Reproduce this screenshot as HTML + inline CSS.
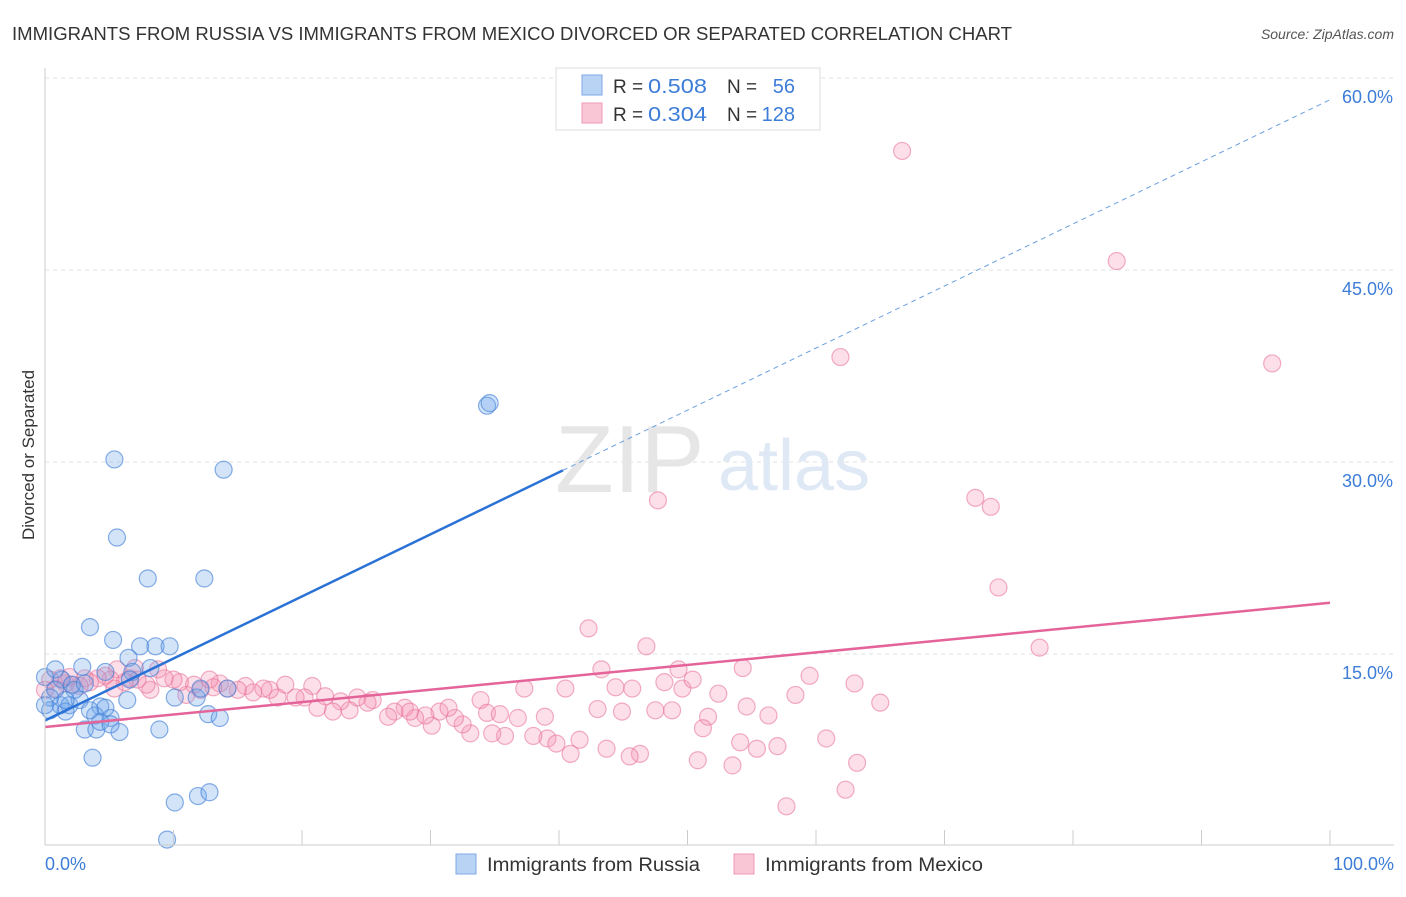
<!DOCTYPE html>
<html><head><meta charset="utf-8"><style>
body{margin:0;background:#fff;font-family:"Liberation Sans",sans-serif;}
svg text{font-family:"Liberation Sans",sans-serif;}
</style></head><body>
<svg id="c" width="1406" height="892">
<text x="12" y="40" font-size="18" fill="#333" textLength="1000" lengthAdjust="spacingAndGlyphs">IMMIGRANTS FROM RUSSIA VS IMMIGRANTS FROM MEXICO DIVORCED OR SEPARATED CORRELATION CHART</text>
<text x="1394" y="39" font-size="14" fill="#555" font-style="italic" text-anchor="end">Source: ZipAtlas.com</text>
<text x="34" y="455" font-size="17" fill="#333" text-anchor="middle" transform="rotate(-90 34 455)">Divorced or Separated</text>
<g id="grid"></g>
<text x="555" y="492" font-size="96" fill="#e6e6e6" font-family="Liberation Serif">ZIP</text>
<text x="718" y="490" font-size="72" fill="#dfe8f5">atlas</text>
<g id="pts"></g>
<g id="lines"></g>
<line x1="45" y1="845" x2="1394" y2="845" stroke="#ccc"/>
<line x1="45" y1="68" x2="45" y2="845" stroke="#ccc"/>
<g id="ticks"></g>
<text x="45" y="870" font-size="18" fill="#3d7dd8">0.0%</text>
<text x="1394" y="870" font-size="18" fill="#3d7dd8" text-anchor="end">100.0%</text>
<g>
<rect x="556" y="68" width="264" height="62" fill="#fff" stroke="#ddd"/>
<rect x="582" y="75" width="20" height="20" fill="#b9d3f5" stroke="#7eaae6"/>
<rect x="582" y="103" width="20" height="20" fill="#f9c6d6" stroke="#ee9ab5"/>
<text x="613" y="93" font-size="19" fill="#333">R =</text>
<text x="648" y="93" font-size="20" fill="#3d7dd8" textLength="59" lengthAdjust="spacingAndGlyphs">0.508</text>
<text x="727" y="93" font-size="19" fill="#333">N =</text>
<text x="795" y="93" font-size="20" fill="#3d7dd8" text-anchor="end">56</text>
<text x="613" y="121" font-size="19" fill="#333">R =</text>
<text x="648" y="121" font-size="20" fill="#3d7dd8" textLength="59" lengthAdjust="spacingAndGlyphs">0.304</text>
<text x="727" y="121" font-size="19" fill="#333">N =</text>
<text x="795" y="121" font-size="20" fill="#3d7dd8" text-anchor="end">128</text>
</g>
<g>
<rect x="456" y="854" width="20" height="20" fill="#b9d3f5" stroke="#7eaae6"/>
<text x="487" y="871" font-size="19" fill="#333" textLength="213" lengthAdjust="spacingAndGlyphs">Immigrants from Russia</text>
<rect x="734" y="854" width="20" height="20" fill="#f9c6d6" stroke="#ee9ab5"/>
<text x="765" y="871" font-size="19" fill="#333" textLength="218" lengthAdjust="spacingAndGlyphs">Immigrants from Mexico</text>
</g>
</svg>
<script>
const yTicks=[15,30,45,60];
const yTickLabels=["15.0%","30.0%","45.0%","60.0%"];
const xTicks=[0,10,20,30,40,50,60,70,80,90,100];
const russiaX=[5.4,5.6,8.0,12.4,13.9,34.4,34.6,3.5,5.3,7.4,8.6,9.7,6.5,2.9,6.8,4.7,1.3,0,0.8,2.1,0.4,1.2,1.9,2.7,4.3,5.1,6.4,10.1,11.8,12.1,14.2,12.7,13.6,3.1,4.0,5.8,8.9,3.7,10.1,11.9,12.8,9.5,3.9,1.6,3.5,0.4,2.3,4.7,0.8,0,1.6,3.1,4.3,6.6,8.2,5.1];
const russiaY=[30.2,24.1,20.9,20.9,29.4,34.4,34.6,17.1,16.1,15.6,15.6,15.6,14.7,14.0,13.6,13.6,13.0,13.2,12.2,12.6,11.6,11.0,11.0,11.4,10.9,10.0,11.4,11.6,11.6,12.3,12.3,10.3,10.0,9.1,9.1,8.9,9.1,6.9,3.4,3.9,4.2,0.5,10.2,10.5,10.6,10.6,12.2,10.8,13.8,11.0,11.4,12.7,9.7,13.0,13.9,9.5];
const mexicoX=[66.7,83.4,95.5,61.9,47.7,72.4,73.6,74.2,42.3,77.4,46.8,43.3,54.3,59.5,63.0,65.0,58.4,52.4,49.3,49.6,50.4,48.2,45.7,44.4,40.5,37.3,43.0,44.9,47.5,48.8,51.6,51.2,54.6,56.3,54.1,55.4,57.0,60.8,63.2,62.3,57.7,53.5,50.8,46.3,43.7,45.5,40.9,41.6,39.1,39.8,38.0,35.8,34.8,36.8,33.9,34.4,33.1,32.5,31.9,30.7,31.4,30.1,29.6,28.8,28.0,27.2,26.7,25.5,25.1,24.3,23.7,23.0,22.4,21.8,21.2,20.8,20.2,19.5,18.7,18.1,17.5,17.0,16.2,15.6,15.0,14.2,13.6,13.1,12.8,12.1,11.6,11.0,10.5,10.0,9.3,8.8,8.2,7.9,7.2,6.6,6.2,5.6,5.1,4.7,4.1,3.5,3.1,2.7,2.1,1.6,1.2,0.8,0.4,0,1.9,5.4,7.0,35.4,38.9,28.4];
const mexicoY=[54.3,45.7,37.7,38.2,27.0,27.2,26.5,20.2,17.0,15.5,15.6,13.8,13.9,13.3,12.7,11.2,11.8,11.9,13.8,12.3,13.0,12.8,12.3,12.4,12.3,12.3,10.7,10.5,10.6,10.6,10.1,9.2,10.9,10.2,8.1,7.6,7.8,8.4,6.5,4.4,3.1,6.3,6.7,7.2,7.6,7.0,7.2,8.3,8.4,8.0,8.6,8.6,8.8,10.0,11.4,10.4,8.8,9.5,10.0,10.5,10.8,9.4,10.2,10.0,10.8,10.5,10.1,11.4,11.2,11.6,10.6,11.3,10.5,11.7,10.8,12.5,11.6,11.6,12.6,11.6,12.2,12.3,12.0,12.5,12.2,12.3,12.7,12.4,13.0,12.2,12.6,11.8,12.8,13.0,13.1,13.8,12.2,12.6,13.0,13.1,12.8,13.8,13.0,13.3,13.1,12.8,13.1,12.5,12.6,12.7,13.1,12.3,13.0,12.2,13.2,12.3,13.9,10.3,10.1,10.5];
const russiaTrend=[9.8,0.485]; // intercept, slope
const mexicoTrend=[9.3,0.097];
const sx=v=>45+v*12.85, sy=v=>846-v*12.8;
const NS='http://www.w3.org/2000/svg';
function mk(t,a,p){const e=document.createElementNS(NS,t);for(const k in a)e.setAttribute(k,a[k]);p.appendChild(e);return e;}
const grid=document.getElementById('grid');
mk('line',{x1:45,y1:78,x2:1394,y2:78,stroke:'#e2e2e2','stroke-dasharray':'4 4'},grid);
yTicks.forEach((t,i)=>{
 const l=mk('line',{x1:45,y1:sy(t),x2:1394,y2:sy(t),stroke:'#e2e2e2','stroke-dasharray':'4 4'},grid);
 
 
 const tx=mk('text',{x:1393,y:sy(t)+25,'font-size':18,fill:'#3d7dd8','text-anchor':'end'},grid);
 tx.textContent=yTickLabels[i];
 
 
});
const ticks=document.getElementById('ticks');
xTicks.forEach(t=>{
 const l=mk('line',{x1:sx(t),y1:830,x2:sx(t),y2:845,stroke:'#ccc'},ticks);
 
 
});
const pts=document.getElementById('pts');
mexicoX.forEach((x,i)=>{
 const c=mk('circle',{cx:sx(x),cy:sy(mexicoY[i]),r:8.5,fill:'rgba(245,150,180,0.3)',stroke:'rgba(232,110,150,0.55)','stroke-width':1.2},pts);
 
 
});
russiaX.forEach((x,i)=>{
 const c=mk('circle',{cx:sx(x),cy:sy(russiaY[i]),r:8.5,fill:'rgba(110,165,235,0.3)',stroke:'rgba(70,130,215,0.65)','stroke-width':1.2},pts);
 
 
});
const lines=document.getElementById('lines');
const rMax=Math.max(...russiaX)+5.7;
let l=mk('line',{x1:sx(0),y1:sy(russiaTrend[0]),x2:sx(rMax),y2:sy(russiaTrend[0]+russiaTrend[1]*rMax),stroke:'#2a72d6','stroke-width':2.5},lines);


l=mk('line',{x1:sx(rMax),y1:sy(russiaTrend[0]+russiaTrend[1]*rMax),x2:sx(100),y2:sy(russiaTrend[0]+russiaTrend[1]*100),stroke:'#6a9fe0','stroke-width':1,'stroke-dasharray':'5 4'},lines);


l=mk('line',{x1:sx(0),y1:sy(mexicoTrend[0]),x2:sx(100),y2:sy(mexicoTrend[0]+mexicoTrend[1]*100),stroke:'#e4649a','stroke-width':2.5},lines);


</script>
</body></html>
